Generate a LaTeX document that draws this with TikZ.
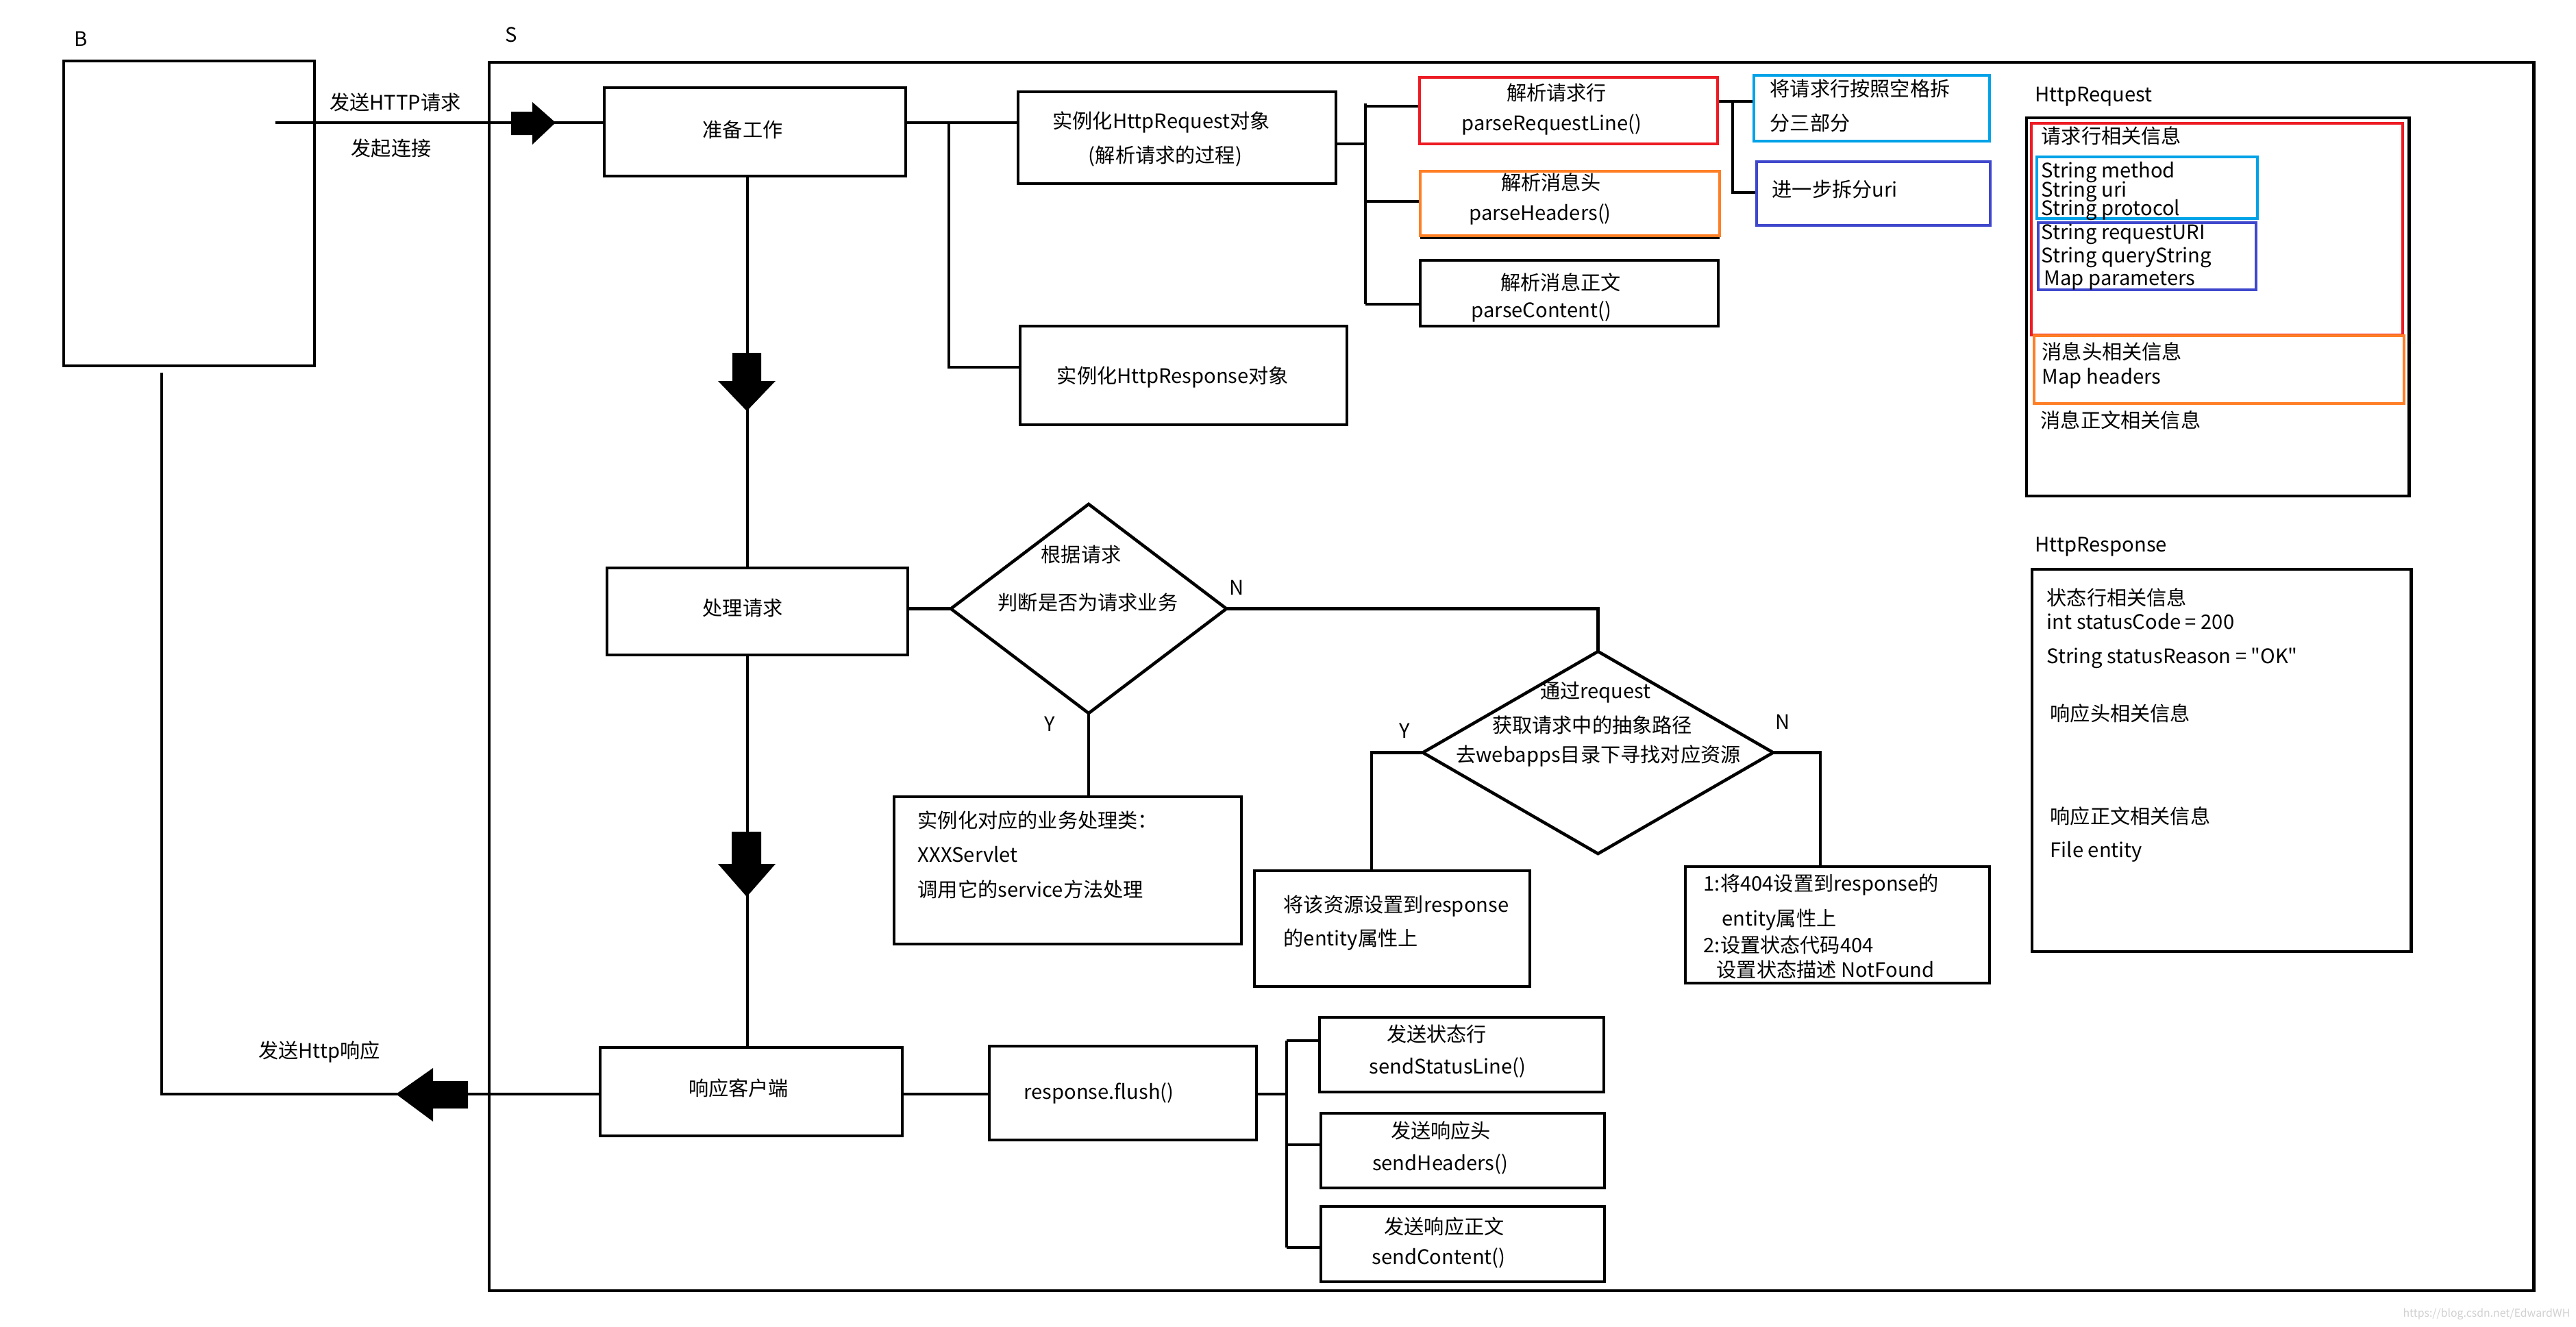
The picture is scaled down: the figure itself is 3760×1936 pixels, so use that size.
\documentclass[tikz,border=0pt]{standalone}
\usepackage{fontspec}
\setmainfont{Noto Sans CJK SC}[Ligatures=TeXOff]
\usetikzlibrary{shapes.geometric,fit}
\definecolor{cred}{HTML}{ED1C24}
\definecolor{corange}{HTML}{FF7F27}
\definecolor{ccyan}{HTML}{00A2E8}
\definecolor{cblue}{HTML}{3F48CC}
\newcommand\fsz{\fontsize{8.3}{10}\selectfont}
\begin{document}
\begin{tikzpicture}[x=0.01cm,y=-0.01cm,
  box/.style={draw, line width=1.4pt, inner sep=0pt},
  cbox/.style={draw, line width=1.3pt, inner sep=0pt},
  dia/.style={draw, diamond, line width=1.3pt, inner sep=0pt, outer sep=0pt},
  ln/.style={line width=1.2pt},
  ct/.style={inner sep=0pt, font=\fsz, text height=6.3pt, text depth=0pt},
  lt/.style={ct, anchor=west}]
\useasboundingbox (0,0) rectangle (3760,1936);
\fill[white] (0,0) rectangle (3760,1936);

% ---- frames
\node[box, fit={(93,89) (459,534)}] (B) {};
\node[box, fit={(714,91) (3698,1884)}] (S) {};
\node[ct] (tB) at (118,56) {B};
\node[ct] (tS) at (746,50) {S};

% ---- main flow boxes
\node[box, fit={(882,128) (1322,257)}] (prep) {};
\node[box, fit={(1486,134) (1950,268)}] (reqobj) {};
\node[box, fit={(1489,476) (1966,620)}] (respobj) {};
\node[cbox, draw=cred, fit={(2072,113) (2507,210)}] (pline) {};
\node[cbox, draw=corange, fit={(2073,250) (2510,344)}] (phead) {};
\draw[line width=1pt] (2073,347.5) -- (2510,347.5);
\node[box, fit={(2073,380) (2508,476)}] (pcont) {};
\node[cbox, draw=ccyan, fit={(2560,110) (2904,206)}] (split) {};
\node[cbox, draw=cblue, fit={(2564,236) (2905,329)}] (uri) {};
\node[box, fit={(886,829) (1325,956)}] (handle) {};
\node[dia, minimum width=4.02cm, minimum height=3.05cm] (d1) at (1589,888.5) {};
\node[dia, minimum width=5.11cm, minimum height=2.95cm] (d2) at (2332.5,1098.5) {};
\node[box, fit={(1305,1163) (1812,1378)}] (servlet) {};
\node[box, fit={(1831,1271) (2233,1440)}] (setres) {};
\node[box, fit={(2460,1265) (2904,1435)}] (nf) {};
\node[box, fit={(876,1529) (1317,1658)}] (respond) {};
\node[box, fit={(1444,1527) (1834,1664)}] (flush) {};
\node[box, fit={(1926,1485) (2341,1594)}] (ss1) {};
\node[box, fit={(1928,1625) (2342,1734)}] (ss2) {};
\node[box, fit={(1928,1761) (2342,1871)}] (ss3) {};

% ---- right panels
\node[box, fit={(2958,172) (3516,724)}] (reqpanel) {};
\node[cbox, draw=cred, fit={(2965,180) (3507,489)}] (reqred) {};
\node[cbox, draw=ccyan, fit={(2973,229) (3295,319)}] (reqcyan) {};
\node[cbox, draw=cblue, fit={(2975,325) (3293,423)}] (reqblue) {};
\node[cbox, draw=corange, fit={(2969,490) (3509,589)}] (reqorange) {};
\node[box, fit={(2966,831) (3519,1389)}] (resppanel) {};

% ---- connectors
\coordinate (a0) at (402,179);
\draw[ln] (a0) -- (a0 -| prep.west);
\fill (746,163) -- (777,163) -- (777,149) -- (811,179) -- (777,211) -- (777,197) -- (746,197) -- cycle;

\coordinate (sp) at (1091,0);
\draw[ln] (sp |- prep.south) -- (sp |- handle.north);
\draw[ln] (sp |- handle.south) -- (sp |- respond.north);
\fill (1069,515) -- (1111,515) -- (1111,556) -- (1132,556) -- (1090,600) -- (1048,556) -- (1069,556) -- cycle;
\fill (1068,1214) -- (1111,1214) -- (1111,1261) -- (1132,1261) -- (1090,1309) -- (1048,1261) -- (1068,1261) -- cycle;

\draw[ln] (prep.east |- a0) -- (reqobj.west |- a0);
\coordinate (b1) at (1385,536);
\draw[ln] (b1 |- a0) -- (b1) -- (b1 -| respobj.west);

\coordinate (b2) at (1993,210);
\coordinate (b2t) at (1993,151);
\coordinate (b2a) at (1993,155);
\coordinate (b2b) at (1993,294);
\coordinate (b2c) at (1993,444);
\draw[ln] (reqobj.east |- b2) -- (b2);
\draw[ln] (b2t) -- (b2c);
\draw[ln] (b2a) -- (b2a -| pline.west);
\draw[ln] (b2b) -- (b2b -| phead.west);
\draw[ln] (b2c) -- (b2c -| pcont.west);

\coordinate (b3a) at (2529,148);
\coordinate (b3b) at (2529,281);
\draw[ln] (pline.east |- b3a) -- (b3a -| split.west);
\draw[ln] (b3a) -- (b3b) -- (b3b -| uri.west);

\draw[ln] (handle.east |- d1.west) -- (d1.west);
\draw[ln] (d1.east) -| (d2.north);
\draw[ln] (d1.south) -- (d1.south |- servlet.north);
\coordinate (yx) at (2002,0);
\draw[ln] (d2.west) -| (yx |- setres.north);
\coordinate (nx) at (2657,0);
\draw[ln] (d2.east) -| (nx |- nf.north);

\coordinate (rb) at (236,1597);
\coordinate (bt) at (236,544);
\draw[ln] (respond.west |- rb) -- (rb) -- (bt);
\fill (683,1578) -- (632,1578) -- (632,1559) -- (578,1597) -- (632,1637) -- (632,1618) -- (683,1618) -- cycle;
\draw[ln] (respond.east |- rb) -- (flush.west |- rb);

\coordinate (b4) at (1878,1597);
\coordinate (b4a) at (1878,1519);
\coordinate (b4b) at (1878,1671);
\coordinate (b4c) at (1878,1821);
\draw[ln] (flush.east |- b4) -- (b4);
\draw[ln] (b4a) -- (b4c);
\draw[ln] (b4a) -- (b4a -| ss1.west);
\draw[ln] (b4b) -- (b4b -| ss2.west);
\draw[ln] (b4c) -- (b4c -| ss3.west);

% ---- texts
\node[ct] (t1) at (577,149) {发送HTTP请求};
\node[ct] (t2) at (571,216) {发起连接};
\node[ct] (prepT) at (1084,189) {准备工作};
\node[ct] (reqobjT1) at (1695,176) {实例化HttpRequest对象};
\node[ct] (reqobjT2) at (1701,226) {(解析请求的过程)};
\node[ct] (plineT1) at (2272,135) {解析请求行};
\node[ct] (plineT2) at (2265,179) {parseRequestLine()};
\node[ct] (pheadT1) at (2264,266) {解析消息头};
\node[ct] (pheadT2) at (2248,310) {parseHeaders()};
\node[ct] (pcontT1) at (2278,412) {解析消息正文};
\node[ct] (pcontT2) at (2250,452) {parseContent()};
\node[lt] (splitT1) at (2583,129) {将请求行按照空格拆};
\node[lt] (splitT2) at (2583,179) {分三部分};
\node[lt] (uriT) at (2586,276) {进一步拆分uri};
\node[ct] (respobjT) at (1712,548) {实例化HttpResponse对象};
\node[ct] (handleT) at (1084,887) {处理请求};
\node[ct] (d1T1) at (1578,809) {根据请求};
\node[ct] (d1T2) at (1588,879) {判断是否为请求业务};
\node[ct] (n1) at (1805,857) {N};
\node[ct] (y1) at (1532,1056) {Y};
\node[ct] (d2T1) at (2329,1008) {通过request};
\node[ct] (d2T2) at (2324,1058) {获取请求中的抽象路径};
\node[ct] (d2T3) at (2333,1101) {去webapps目录下寻找对应资源};
\node[ct] (y2) at (2050,1066) {Y};
\node[ct] (n2) at (2602,1053) {N};
\node[lt] (servT1) at (1339,1197) {实例化对应的业务处理类：};
\node[lt] (servT2) at (1339,1247) {XXXServlet};
\node[lt] (servT3) at (1339,1298) {调用它的service方法处理};
\node[lt] (setT1) at (1873,1320) {将该资源设置到response};
\node[lt] (setT2) at (1873,1369) {的entity属性上};
\node[lt] (nfT1) at (2486,1289) {1:将404设置到response的};
\node[lt] (nfT2) at (2513,1340) {entity属性上};
\node[lt] (nfT3) at (2486,1379) {2:设置状态代码404};
\node[lt] (nfT4) at (2505,1415) {设置状态描述 NotFound};
\node[ct] (respondT) at (1078,1588) {响应客户端};
\node[ct] (sendT) at (466,1533) {发送Http响应};
\node[ct] (flushT) at (1604,1593) {response.flush()};
\node[ct] (ss1T1) at (2097,1509) {发送状态行};
\node[ct] (ss1T2) at (2113,1556) {sendStatusLine()};
\node[ct] (ss2T1) at (2103,1650) {发送响应头};
\node[ct] (ss2T2) at (2102,1697) {sendHeaders()};
\node[ct] (ss3T1) at (2108,1790) {发送响应正文};
\node[ct] (ss3T2) at (2100,1834) {sendContent()};

% panel texts
\node[lt] (rqT0) at (2970,137) {HttpRequest};
\node[lt] (rqT1) at (2979,198) {请求行相关信息};
\node[lt] (rqT2) at (2979,248) {String method};
\node[lt] (rqT3) at (2979,276) {String uri};
\node[lt] (rqT4) at (2979,303) {String protocol};
\node[lt] (rqT5) at (2979,338) {String requestURI};
\node[lt] (rqT6) at (2979,372) {String queryString};
\node[lt] (rqT7) at (2983,405) {Map parameters};
\node[lt] (rqT8) at (2980,513) {消息头相关信息};
\node[lt] (rqT9) at (2980,549) {Map headers};
\node[lt] (rqT10) at (2978,613) {消息正文相关信息};
\node[lt] (rsT0) at (2970,794) {HttpResponse};
\node[lt] (rsT1) at (2987,872) {状态行相关信息};
\node[lt] (rsT2) at (2987,907) {int statusCode = 200};
\node[lt] (rsT3) at (2987,957) {String statusReason = "OK"};
\node[lt] (rsT4) at (2992,1041) {响应头相关信息};
\node[lt] (rsT5) at (2992,1191) {响应正文相关信息};
\node[lt] (rsT6) at (2992,1240) {File entity};

\node[inner sep=0pt, anchor=east, text=black!18, font=\fontsize{4.5}{5}\selectfont] (wm) at (3752,1918) {https://blog.csdn.net/EdwardWH};
\end{tikzpicture}
\end{document}
